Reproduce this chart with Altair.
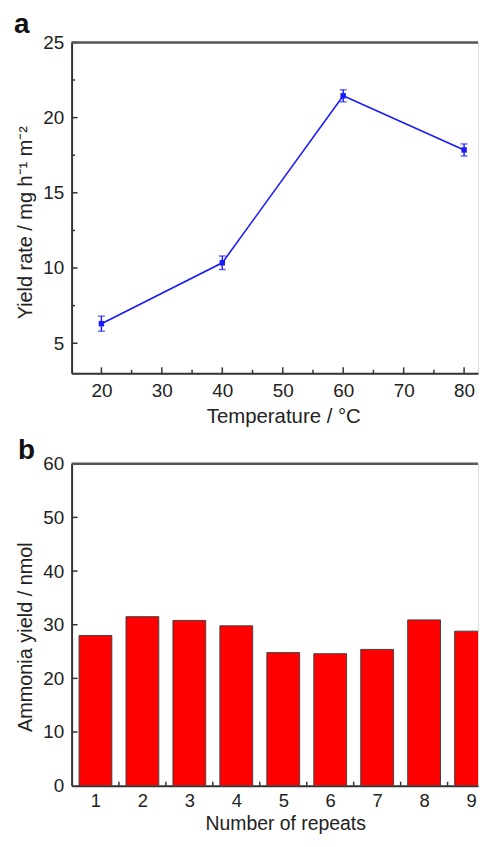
import altair as alt
import pandas as pd

# ---- data ----
temps = [20, 40, 60, 80]
yield_rate = [6.3, 10.35, 21.45, 17.85]
yield_err = [0.5, 0.45, 0.4, 0.4]

repeats = [1, 2, 3, 4, 5, 6, 7, 8, 9]
ammonia = [28.0, 31.5, 30.8, 29.8, 24.8, 24.6, 25.4, 30.9, 28.8]

x_major_a = [20, 30, 40, 50, 60, 70, 80]
x_minor_a = [25, 35, 45, 55, 65, 75]
y_major_a = [5, 10, 15, 20, 25]
y_minor_a = [7.5, 12.5, 17.5, 22.5]

x_major_b = [1, 2, 3, 4, 5, 6, 7, 8, 9]
x_minor_b = [1.5, 2.5, 3.5, 4.5, 5.5, 6.5, 7.5, 8.5]
y_major_b = [0, 10, 20, 30, 40, 50, 60]

FONT = "Liberation Sans"
AX = "#333333"
W = 409
HA = 333
HB = 324
LBL = 19
TTL = 20.5

df_a = pd.DataFrame({"t": temps, "r": yield_rate, "e": yield_err})
df_a["lo"] = df_a["r"] - df_a["e"]
df_a["hi"] = df_a["r"] + df_a["e"]
df_b = pd.DataFrame({"n": repeats, "y": ammonia})

# ---------------- panel a ----------------
k_a = 365 / 60.0
x0_a = 20 - 30 / k_a
xs_a = alt.Scale(domain=[x0_a, x0_a + W / k_a], nice=False, zero=False, padding=0)
ys_a = alt.Scale(domain=[3, 25], nice=False, zero=False, padding=0)

xaxis_a = alt.Axis(values=x_major_a, ticks=False, grid=False, domainColor=AX, domainWidth=2,
                   labelFontSize=LBL, labelPadding=8, labelColor="#222", labelFont=FONT,
                   title="Temperature / °C", titleFontSize=TTL, titleFontWeight="normal",
                   titleFont=FONT, titleColor="#222", titlePadding=6, titleX=213)
yaxis_a = alt.Axis(values=y_major_a, ticks=False, grid=False, domainColor=AX, domainWidth=2,
                   labelFontSize=LBL, labelPadding=8, labelColor="#222", labelFont=FONT,
                   title="Yield rate / mg h⁻¹ m⁻²", titleFontSize=20, titleFontWeight="normal",
                   titleFont=FONT, titleColor="#222", titlePadding=7, titleY=181)

base_a = alt.Chart(df_a)
line_a = base_a.mark_line(color="#1a1aff", strokeWidth=1.6).encode(
    x=alt.X("t:Q", scale=xs_a, axis=xaxis_a),
    y=alt.Y("r:Q", scale=ys_a, axis=yaxis_a),
)
err_a = base_a.mark_errorbar(ticks={"size": 7, "thickness": 1.4, "color": "#1a1aff"},
                             color="#1a1aff", thickness=1.4).encode(
    x=alt.X("t:Q", scale=xs_a, axis=xaxis_a),
    y=alt.Y("lo:Q", scale=ys_a, axis=yaxis_a),
    y2="hi:Q",
)
pts_a = base_a.mark_square(color="#1a1aff", size=30, opacity=1).encode(
    x=alt.X("t:Q", scale=xs_a, axis=xaxis_a),
    y=alt.Y("r:Q", scale=ys_a, axis=yaxis_a),
)

def vticks(vals, scale, axis, length, h):
    return alt.Chart(pd.DataFrame({"v": vals})).mark_rule(color=AX, strokeWidth=1.5).encode(
        x=alt.X("v:Q", scale=scale, axis=axis), y=alt.value(h), y2=alt.value(h - length))

def hticks(vals, scale, axis, length):
    return alt.Chart(pd.DataFrame({"v": vals})).mark_rule(color=AX, strokeWidth=1.5).encode(
        y=alt.Y("v:Q", scale=scale, axis=axis), x=alt.value(0), x2=alt.value(length))

def top_border():
    return alt.Chart(pd.DataFrame({"d": [0]})).mark_rule(color="#555555", strokeWidth=2.5).encode(
        x=alt.value(0), x2=alt.value(W), y=alt.value(0))

def panel_label(txt, dx, dy):
    return alt.Chart(pd.DataFrame({"s": [txt]})).mark_text(
        font=FONT, fontSize=28, fontWeight="bold", align="left", baseline="alphabetic", color="#111"
    ).encode(text="s:N", x=alt.value(dx), y=alt.value(dy))

chart_a = alt.layer(
    line_a, err_a, pts_a,
    vticks(x_major_a, xs_a, xaxis_a, 6, HA), vticks(x_minor_a, xs_a, xaxis_a, 3.5, HA),
    hticks(y_major_a, ys_a, yaxis_a, 6), hticks(y_minor_a, ys_a, yaxis_a, 3.5),
    top_border(), panel_label("a", -58, -9),
).properties(width=W, height=HA)

# ---------------- panel b ----------------
k_b = 378 / 8.0
x0_b = 1 - 24 / k_b
xs_b = alt.Scale(domain=[x0_b, x0_b + W / k_b], nice=False, zero=False, padding=0)
ys_b = alt.Scale(domain=[0, 60], nice=False, zero=False, padding=0)

xaxis_b = alt.Axis(values=x_major_b, ticks=False, grid=False, domainColor=AX, domainWidth=2,
                   labelFontSize=18.5, labelPadding=6, labelColor="#222", labelFont=FONT,
                   title="Number of repeats", titleFontSize=19.5, titleFontWeight="normal",
                   titleFont=FONT, titleColor="#222", titleX=215, titlePadding=5)
yaxis_b = alt.Axis(values=y_major_b, ticks=False, grid=False, domainColor=AX, domainWidth=2,
                   labelFontSize=LBL, labelPadding=8, labelColor="#222", labelFont=FONT,
                   title="Ammonia yield / nmol", titleFontSize=20, titleFontWeight="normal",
                   titleFont=FONT, titleColor="#222", titlePadding=7, titleY=174)

bars_b = alt.Chart(df_b).mark_bar(color="#ff0000", stroke="#444444", strokeWidth=1,
                                  size=33, clip=True).encode(
    x=alt.X("n:Q", scale=xs_b, axis=xaxis_b),
    y=alt.Y("y:Q", scale=ys_b, axis=yaxis_b),
)

chart_b = alt.layer(
    vticks(x_major_b, xs_b, xaxis_b, 6, HB), bars_b, vticks(x_minor_b, xs_b, xaxis_b, 4, HB),
    hticks(y_major_b[1:-1], ys_b, yaxis_b, 6),
    top_border(), panel_label("b", -54, -5),
).properties(width=W, height=HB)

chart = alt.vconcat(chart_a, chart_b, spacing=9).properties(
    padding={"left": 5, "top": 0, "right": 0, "bottom": 0}
).configure_view(stroke=None).configure(background="white")

chart.save("out.html", embed_options={"renderer": "svg", "actions": False})
